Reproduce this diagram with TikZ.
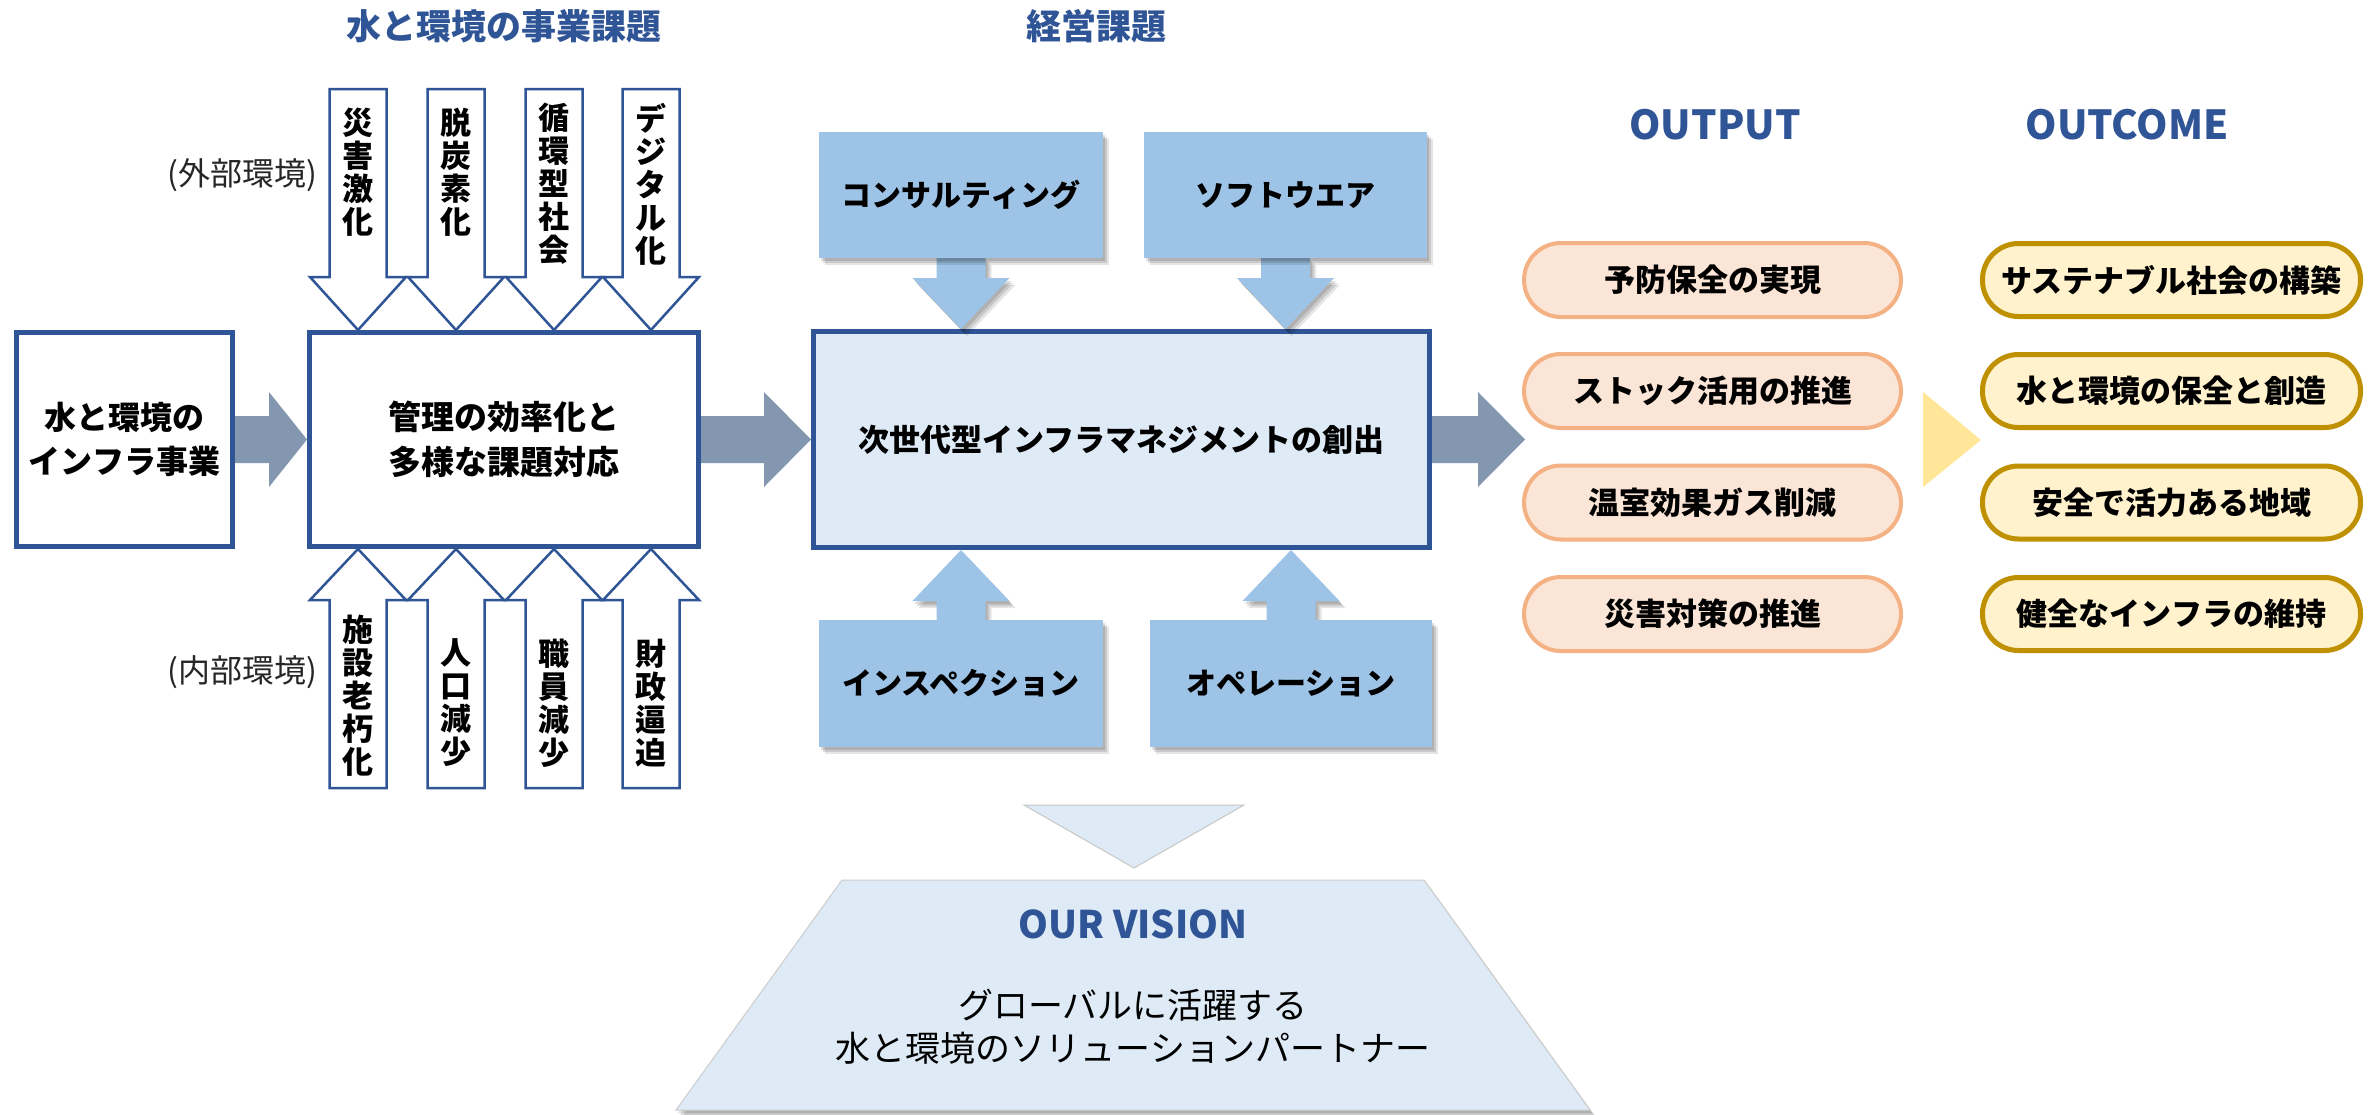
\documentclass[tikz,border=0pt]{standalone}
\usepackage{fontspec}
\setmainfont{Noto Sans CJK JP}
\usetikzlibrary{calc,shadows}
\definecolor{dblue}{HTML}{2F5597}
\definecolor{lblue}{HTML}{DEEBF7}
\definecolor{mblue}{HTML}{9DC3E6}
\definecolor{garrow}{HTML}{8497B0}
\definecolor{opfill}{HTML}{FBE5D6}
\definecolor{opline}{HTML}{F4B183}
\definecolor{ocfill}{HTML}{FFF2CC}
\definecolor{ocline}{HTML}{BF9000}
\definecolor{ytri}{HTML}{FFE699}
% #1 style, #2 start, #3 end (tip), #4 head length, #5 shaft half width, #6 head half width
\newcommand\blockarrow[6]{%
  \coordinate (ba-h) at ($(#3)!#4!(#2)$);
  \path[#1] ($(#2)!#5!90:(#3)$) -- ($(ba-h)!#5!90:(#3)$) -- ($(ba-h)!#6!90:(#3)$) -- (#3)
    -- ($(ba-h)!#6!-90:(#3)$) -- ($(ba-h)!#5!-90:(#3)$) -- ($(#2)!#5!-90:(#3)$) -- cycle;}
\begin{document}
\begin{tikzpicture}[x=1pt,y=-1pt,
  softshadow/.style={drop shadow={shadow xshift=6pt, shadow yshift=-7pt, opacity=0.10, fill=black},
    drop shadow={shadow xshift=4pt, shadow yshift=-5pt, opacity=0.12, fill=black},
    drop shadow={shadow xshift=2pt, shadow yshift=-3pt, opacity=0.12, fill=black}},
  title/.style={font=\fontsize{35}{40}\selectfont\bfseries, text=dblue, inner sep=0pt},
  headl/.style={font=\fontsize{40}{44}\selectfont\bfseries, text=dblue, inner sep=0pt},
  framebox/.style={draw=dblue, line width=5pt, align=center, inner sep=0pt},
  lightbox/.style={framebox, fill=lblue},
  serv/.style={fill=mblue, inner sep=0pt, font=\fontsize{30}{34}\selectfont\bfseries, softshadow},
  servarrow/.style={fill=mblue, softshadow},
  varrow/.style={fill=white, draw=dblue, line width=2.5pt, line join=miter},
  vtext/.style={font=\fontsize{31}{33}\selectfont\bfseries, align=center, inner sep=0pt},
  envlabel/.style={font=\fontsize{32}{36}\selectfont, text=black!85, inner sep=0pt},
  outpill/.style={draw=opline, fill=opfill, line width=4pt, rounded corners=37pt,
    minimum width=377pt, minimum height=74pt, inner sep=0pt, font=\fontsize{31}{36}\selectfont\bfseries},
  ocpill/.style={draw=ocline, fill=ocfill, line width=5pt, rounded corners=36pt,
    minimum width=378pt, minimum height=73pt, inner sep=0pt, font=\fontsize{31}{36}\selectfont\bfseries}]
\useasboundingbox (0,0) rectangle (2376,1114);
\fill[white] (0,0) rectangle (2376,1114);

% titles
\node[title] (t1) at (504,26) {水と環境の事業課題};
\node[title] (t2) at (1096,26) {経営課題};
\node[headl] (tout) at (1715,125) {OUTPUT};
\node[headl] (toc) at (2127,125) {OUTCOME};

% main boxes
\node[framebox, fill=white, minimum width=216pt, minimum height=214pt,
  font=\fontsize{32}{44}\selectfont\bfseries] (infra) at (124.5,439.5) {水と環境の\\インフラ事業};
\node[framebox, fill=white, minimum width=389pt, minimum height=214pt,
  font=\fontsize{33}{45}\selectfont\bfseries] (mgmt) at (504,439.5) {管理の効率化と\\多様な課題対応};
\node[lightbox, minimum width=616pt, minimum height=216pt,
  font=\fontsize{31}{36}\selectfont\bfseries] (mainbox) at (1121.5,439.5) {次世代型インフラマネジメントの創出};

% grey arrows
\blockarrow{fill=garrow}{infra.east}{mgmt.west}{38pt}{23.5pt}{47.5pt}
\blockarrow{fill=garrow}{mgmt.east}{mainbox.west}{47pt}{23.5pt}{47.5pt}
\coordinate (a3e) at (1525,439.5);
\blockarrow{fill=garrow}{mainbox.east}{a3e}{47pt}{23.5pt}{47.5pt}

% outside environment arrows (down)
\coordinate (d1) at (358,89);
\coordinate (d2) at (456,89);
\coordinate (d3) at (554,89);
\coordinate (d4) at (651,89);
\blockarrow{varrow}{d1}{d1 |- mgmt.north}{53pt}{28.5pt}{48pt}
\blockarrow{varrow}{d2}{d2 |- mgmt.north}{53pt}{28.5pt}{48pt}
\blockarrow{varrow}{d3}{d3 |- mgmt.north}{53pt}{28.5pt}{48pt}
\blockarrow{varrow}{d4}{d4 |- mgmt.north}{53pt}{28.5pt}{48pt}
\node[vtext] (dt1) at (358,172) {災\\害\\激\\化};
\node[vtext] (dt2) at (456,172) {脱\\炭\\素\\化};
\node[vtext] (dt3) at (554,184) {循\\環\\型\\社\\会};
\node[vtext] (dt4) at (651,184) {デ\\ジ\\タ\\ル\\化};

% inside environment arrows (up)
\coordinate (u1) at (358,788);
\coordinate (u2) at (456,788);
\coordinate (u3) at (554,788);
\coordinate (u4) at (651,788);
\blockarrow{varrow}{u1}{u1 |- mgmt.south}{51pt}{28.5pt}{48pt}
\blockarrow{varrow}{u2}{u2 |- mgmt.south}{51pt}{28.5pt}{48pt}
\blockarrow{varrow}{u3}{u3 |- mgmt.south}{51pt}{28.5pt}{48pt}
\blockarrow{varrow}{u4}{u4 |- mgmt.south}{51pt}{28.5pt}{48pt}
\node[vtext] (ut1) at (358,696) {施\\設\\老\\朽\\化};
\node[vtext] (ut2) at (456,703) {人\\口\\減\\少};
\node[vtext] (ut3) at (554,703) {職\\員\\減\\少};
\node[vtext] (ut4) at (651,703) {財\\政\\逼\\迫};

\node[envlabel] (ext) at (242,175) {(外部環境)};
\node[envlabel] (int) at (242,672) {(内部環境)};

% service boxes
\coordinate (cs) at (961,258);
\coordinate (ss) at (1285.5,258);
\coordinate (is) at (961,620);
\coordinate (os) at (1291,620);
\blockarrow{servarrow}{cs}{cs |- mainbox.north}{51pt}{24.5pt}{48.5pt}
\blockarrow{servarrow}{ss}{ss |- mainbox.north}{51pt}{24.5pt}{48.5pt}
\blockarrow{servarrow}{is}{is |- mainbox.south}{51pt}{24.5pt}{48.5pt}
\blockarrow{servarrow}{os}{os |- mainbox.south}{51pt}{24.5pt}{48.5pt}
\node[serv, minimum width=284pt, minimum height=126pt] (consult) at (961,195) {コンサルティング};
\node[serv, minimum width=283pt, minimum height=126pt] (software) at (1285.5,195) {ソフトウエア};
\node[serv, minimum width=284pt, minimum height=127pt] (inspect) at (961,683.5) {インスペクション};
\node[serv, minimum width=282pt, minimum height=127pt] (operate) at (1291,683.5) {オペレーション};

% vision
\path[fill=lblue, draw=gray!45, line width=1pt] (1024,805) -- (1244,805) -- (1134,868) -- cycle;
\path[fill=lblue, draw=gray!40, line width=1pt, softshadow]
  (842,880) -- (1424,880) -- (1590,1110) -- (676,1110) -- cycle;
\node[headl, font=\fontsize{38}{42}\selectfont\bfseries] (vis) at (1133,924) {OUR VISION};
\node[font=\fontsize{35}{43}\selectfont, align=center, inner sep=0pt] (vist) at (1133,1026.5)
  {グローバルに活躍する\\水と環境のソリューションパートナー};

% output pills
\node[outpill] (o1) at (1712.5,280) {予防保全の実現};
\node[outpill] (o2) at (1712.5,391) {ストック活用の推進};
\node[outpill] (o3) at (1712.5,502.5) {温室効果ガス削減};
\node[outpill] (o4) at (1712.5,614) {災害対策の推進};

% yellow triangle
\fill[ytri] (1923,392) -- (1981,440) -- (1923,487) -- cycle;

% outcome pills
\node[ocpill] (c1) at (2171.5,280) {サステナブル社会の構築};
\node[ocpill] (c2) at (2171.5,391) {水と環境の保全と創造};
\node[ocpill] (c3) at (2171.5,502.5) {安全で活力ある地域};
\node[ocpill] (c4) at (2171.5,614) {健全なインフラの維持};
\end{tikzpicture}
\end{document}
